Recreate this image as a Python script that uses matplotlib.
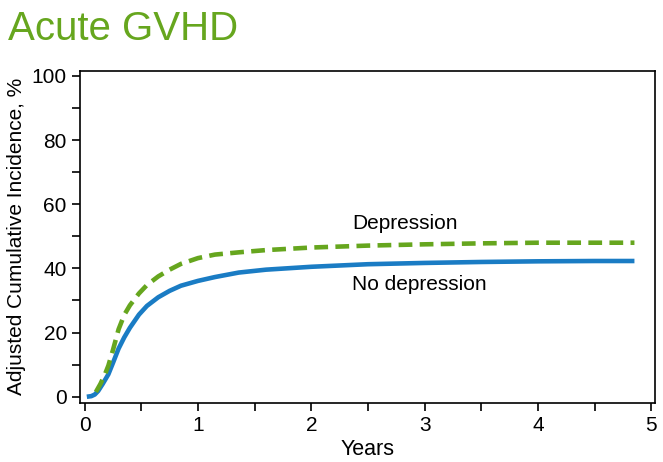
import numpy as np
import matplotlib.pyplot as plt

plt.rcParams['font.family'] = ['Liberation Sans', 'DejaVu Sans']

# years and adjusted cumulative incidence (%)
t_no = [0.02, 0.06, 0.09, 0.12, 0.16, 0.21, 0.25, 0.30, 0.35, 0.40, 0.48, 0.55, 0.65,
        0.75, 0.85, 1.0, 1.15, 1.36, 1.6, 2.0, 2.5, 3.0, 3.5, 4.0, 4.5, 4.85]
ci_no = [0.0, 0.2, 0.7, 1.8, 4.0, 7.0, 10.5, 15.0, 18.5, 21.5, 25.6, 28.3, 31.0,
         33.0, 34.6, 36.1, 37.3, 38.7, 39.6, 40.5, 41.3, 41.7, 42.0, 42.2, 42.3, 42.3]

t_dep = [0.10, 0.14, 0.18, 0.21, 0.25, 0.30, 0.35, 0.40, 0.48, 0.55, 0.65, 0.75,
         0.85, 1.0, 1.15, 1.36, 1.6, 2.0, 2.5, 3.0, 3.5, 4.0, 4.5, 4.85]
ci_dep = [1.5, 4.0, 7.0, 9.7, 14.5, 21.0, 25.5, 28.5, 32.2, 34.8, 37.5, 39.6,
          41.4, 43.2, 44.3, 45.0, 45.7, 46.5, 47.1, 47.5, 47.8, 48.0, 48.0, 48.0]

blue = '#1a7cc4'
green = '#66a61e'

fig = plt.figure(figsize=(6.63, 4.62), dpi=100)
ax = fig.add_axes([0.1207, 0.128, 0.867, 0.719])

ax.plot(t_no, ci_no, color=blue, lw=3.3, solid_capstyle='butt')
ax.plot(t_dep, ci_dep, color=green, lw=3.3, ls=(0, (3, 1.6)))

ax.text(2.36, 54, 'Depression', fontsize=15, va='center')
ax.text(2.36, 35, 'No depression', fontsize=15, va='center')

ax.set_xlim(-0.04, 5.03)
ax.set_ylim(-1.9, 101.6)
ax.set_xticks(np.arange(0, 6, 1))
ax.set_xticks(np.arange(0, 5.01, 0.5), minor=True)
ax.set_yticks(np.arange(0, 101, 20))
ax.set_yticks(np.arange(0, 101, 10), minor=True)
ax.tick_params(which='both', direction='out', length=6, width=1.2, labelsize=15)
for s in ax.spines.values():
    s.set_linewidth(1.2)

ax.set_xlabel('Years', fontsize=15.5, labelpad=3)
ax.set_ylabel('Adjusted Cumulative Incidence, %', fontsize=15, labelpad=4)

fig.text(0.012, 0.937, 'Acute GVHD', color=green, fontsize=29, va='center')

fig.savefig('out.png', dpi=100)
